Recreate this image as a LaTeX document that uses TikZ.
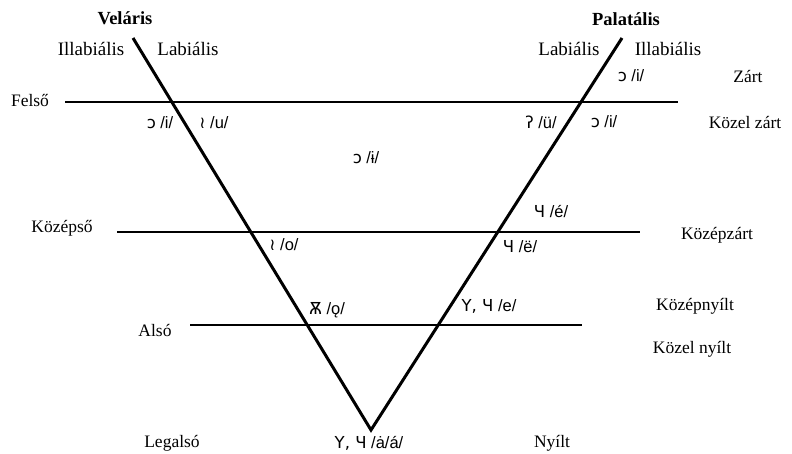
\documentclass[tikz,border=0pt]{standalone}
\usepackage{fontspec}
\setmainfont{Liberation Serif}
\newfontfamily\lab{Liberation Sans}
\newfontfamily\rov{DejaVu Sans}
\begin{document}
\begin{tikzpicture}[x=1pt,y=-1pt,
  txt/.style={font=\fontsize{17.5}{19}\selectfont, inner sep=0pt, anchor=center},
  top/.style={font=\fontsize{19}{21}\selectfont, inner sep=0pt, anchor=center},
  hd/.style={font=\bfseries\fontsize{18.5}{20}\selectfont, inner sep=0pt},
  ph/.style={font=\lab\fontsize{16.5}{18}\selectfont, inner sep=0pt},
  axis/.style={line width=3pt},
  lvl/.style={line width=1.2pt}]
\useasboundingbox (0,0) rectangle (792,453);
\coordinate (vl) at (133,38);
\coordinate (vr) at (622,38);
\coordinate (vb) at (371,430);
\draw[axis] (vl) -- (vb) -- (vr);
\coordinate (f1) at (65,102); \coordinate (f2) at (678,102);
\coordinate (k1) at (117,232); \coordinate (k2) at (640,232);
\coordinate (a1) at (190,325); \coordinate (a2) at (582,325);
\draw[lvl] (f1) -- (f2);
\draw[lvl] (k1) -- (k2);
\draw[lvl] (a1) -- (a2);
\node[hd] (vel) at (125,18) {Veláris};
\node[hd] (pal) at (626,19) {Palatális};
\node[top] (il1) at (91,49) {Illabiális};
\node[top] (lb1) at (188,49) {Labiális};
\node[top] (lb2) at (569,49) {Labiális};
\node[top] (il2) at (668,49) {Illabiális};
\node[txt] (zart) at (748,76) {Zárt};
\node[txt] (felso) at (30,100) {Felső};
\node[txt] (kzart) at (745,122) {Közel zárt};
\node[txt] (kozepso) at (62,228) {Középső};
\node[txt] (kpzart) at (717,235) {Középzárt};
\node[txt] (kpnyilt) at (695,306) {Középnyílt};
\node[txt] (also) at (155,330) {Alsó};
\node[txt] (knyilt) at (692,349) {Közel nyílt};
\node[txt] (legalso) at (172,443) {Legalsó};
\node[txt] (nyilt) at (552,443) {Nyílt};
\node[ph] (p1) at (631,76) {{\rov ɔ} /i/};
\node[ph] (p2) at (160,123) {{\rov ɔ} /i/};
\node[ph] (p3) at (214,123) {{\rov ≀} /u/};
\node[ph] (p4) at (541,122) {{\rov ʔ} /ü/};
\node[ph] (p5) at (604,122) {{\rov ɔ} /i/};
\node[ph] (p6) at (366,158) {{\rov ɔ} /ɨ/};
\node[ph] (p7) at (551,212) {{\rov Ч} /é/};
\node[ph] (p8) at (284,245) {{\rov ≀} /o/};
\node[ph] (p9) at (520,247) {{\rov Ч} /ë/};
\node[ph] (p10) at (327,310) {{\rov Ѫ} /ǫ/};
\node[ph] (p11) at (489,306) {{\rov Y, Ч} /e/};
\node[ph] (p12) at (369,443) {{\rov Y, Ч} /ȧ/á/};
\end{tikzpicture}
\end{document}
